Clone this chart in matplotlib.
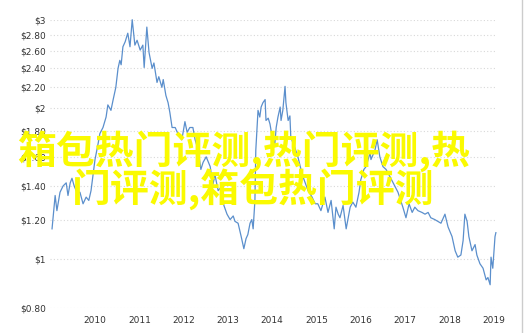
import matplotlib
matplotlib.use("Agg")
import matplotlib.pyplot as plt
from matplotlib.ticker import FixedLocator, NullLocator
from matplotlib.lines import Line2D

years = [2009.03, 2009.10, 2009.14, 2009.21, 2009.28, 2009.35, 2009.39, 2009.44, 2009.48, 2009.53,
         2009.59, 2009.66, 2009.73, 2009.80, 2009.86, 2009.91, 2010.00, 2010.07, 2010.11, 2010.18,
         2010.25, 2010.29, 2010.36, 2010.41, 2010.47, 2010.52, 2010.56, 2010.59, 2010.63, 2010.68,
         2010.74, 2010.79, 2010.84, 2010.90, 2010.95, 2011.02, 2011.08, 2011.11, 2011.17, 2011.22,
         2011.29, 2011.33, 2011.40, 2011.44, 2011.51, 2011.54, 2011.60, 2011.65, 2011.69, 2011.74,
         2011.81, 2011.87, 2011.96, 2012.03, 2012.08, 2012.14, 2012.21, 2012.26, 2012.33, 2012.39,
         2012.44, 2012.51, 2012.60, 2012.66, 2012.71, 2012.78, 2012.84, 2012.91, 2012.98, 2013.05,
         2013.12, 2013.16, 2013.23, 2013.30, 2013.36, 2013.41, 2013.45, 2013.50, 2013.54, 2013.57,
         2013.61, 2013.63, 2013.68, 2013.72, 2013.75, 2013.79, 2013.84, 2013.86, 2013.91, 2013.95,
         2014.00, 2014.06, 2014.09, 2014.13, 2014.18, 2014.20, 2014.24, 2014.29, 2014.31, 2014.36,
         2014.40, 2014.42, 2014.51, 2014.58, 2014.65, 2014.72, 2014.81, 2014.90, 2014.97, 2015.03,
         2015.10, 2015.19, 2015.26, 2015.33, 2015.40, 2015.44, 2015.49, 2015.53, 2015.60, 2015.67,
         2015.76, 2015.82, 2015.89, 2015.96, 2016.00, 2016.07, 2016.12, 2016.21, 2016.23, 2016.32,
         2016.37, 2016.43, 2016.50, 2016.57, 2016.66, 2016.73, 2016.84, 2016.95, 2017.02, 2017.09,
         2017.16, 2017.22, 2017.29, 2017.38, 2017.45, 2017.52, 2017.58, 2017.67, 2017.74, 2017.81,
         2017.90, 2017.97, 2018.06, 2018.13, 2018.19, 2018.26, 2018.31, 2018.35, 2018.40, 2018.44,
         2018.51, 2018.58, 2018.62, 2018.69, 2018.76, 2018.83, 2018.87, 2018.92, 2018.94, 2018.98,
         2019.03, 2019.05]

prices = [1.15, 1.34, 1.25, 1.36, 1.40, 1.42, 1.34, 1.42, 1.45, 1.40,
          1.36, 1.36, 1.29, 1.33, 1.31, 1.37, 1.58, 1.70, 1.78, 1.83,
          1.92, 2.03, 1.98, 2.08, 2.20, 2.40, 2.49, 2.44, 2.65, 2.71,
          2.82, 2.65, 3.00, 2.67, 2.73, 2.61, 2.67, 2.41, 2.90, 2.58,
          2.40, 2.46, 2.25, 2.31, 2.20, 2.28, 2.12, 2.05, 1.96, 1.83,
          1.83, 1.78, 1.73, 1.88, 1.79, 1.83, 1.83, 1.73, 1.65, 1.51,
          1.56, 1.60, 1.53, 1.41, 1.47, 1.37, 1.39, 1.28, 1.23, 1.20,
          1.22, 1.19, 1.18, 1.11, 1.05, 1.10, 1.12, 1.18, 1.20, 1.15,
          1.31, 1.65, 1.98, 1.92, 2.01, 2.05, 2.08, 1.89, 1.91, 1.86,
          1.75, 1.70, 1.83, 1.92, 2.01, 1.89, 1.98, 2.21, 2.05, 1.89,
          1.93, 1.75, 1.67, 1.60, 1.51, 1.44, 1.37, 1.33, 1.29, 1.29,
          1.25, 1.33, 1.24, 1.31, 1.15, 1.27, 1.23, 1.21, 1.28, 1.15,
          1.27, 1.30, 1.27, 1.36, 1.44, 1.51, 1.53, 1.63, 1.58, 1.65,
          1.73, 1.60, 1.53, 1.51, 1.46, 1.42, 1.36, 1.27, 1.21, 1.29,
          1.24, 1.27, 1.25, 1.24, 1.23, 1.24, 1.21, 1.20, 1.19, 1.18,
          1.23, 1.16, 1.11, 1.04, 1.01, 1.02, 1.09, 1.23, 1.19, 1.11,
          1.04, 1.07, 1.02, 0.98, 0.96, 0.91, 0.92, 0.89, 1.01, 0.96,
          1.11, 1.13]

y_ticks = [0.8, 1.0, 1.2, 1.4, 1.6, 1.8, 2.0, 2.2, 2.4, 2.6, 2.8, 3.0]
y_labels = ["$0.80", "$1", "$1.20", "$1.40", "$1.60", "$1.80", "$2",
            "$2.20", "$2.40", "$2.60", "$2.80", "$3"]
x_ticks = list(range(2010, 2020))
x_labels = [str(y) for y in x_ticks]

overlay_line1 = "箱包热门评测,热门评测,热"
overlay_line2 = "门评测,箱包热门评测"

W, H = 524, 333
fig = plt.figure(figsize=(W / 100, H / 100), dpi=100)
fig.patch.set_facecolor("white")

ax = fig.add_axes([50 / W, 1 - 308 / H, (497 - 50) / W, (308 - 19.7) / H])
ax.set_facecolor("white")
ax.set_yscale("log")
ax.set_ylim(0.8, 3.0)
ax.set_xlim(2008.984, 2019.075)

ax.yaxis.set_major_locator(FixedLocator(y_ticks))
ax.yaxis.set_minor_locator(NullLocator())
ax.set_yticklabels(y_labels)
ax.set_xticks(x_ticks)
ax.set_xticklabels(x_labels)

for s in ax.spines.values():
    s.set_visible(False)
ax.tick_params(axis="both", length=0, labelsize=6.5, colors="#333333")
ax.tick_params(axis="y", pad=3)
ax.tick_params(axis="x", pad=6)

ax.grid(axis="y", color="#d8d8d8", linewidth=0.8, linestyle=(0, (1, 2)))
ax.set_axisbelow(True)

ax.plot(years, prices, color="#5b8fcc", linewidth=0.9, clip_on=False)

fig.text(17 / W, 1 - 151 / H, overlay_line1, color="#fafa00", fontsize=28,
         fontweight="bold", family=["Noto Sans CJK SC", "DejaVu Sans"],
         ha="left", va="center")
fig.text(72 / W, 1 - 189 / H, overlay_line2, color="#fafa00", fontsize=28,
         fontweight="bold", family=["Noto Sans CJK SC", "DejaVu Sans"],
         ha="left", va="center")

fig.add_artist(Line2D([521.5 / W, 521.5 / W], [0, 1], color="#cccccc",
                      linewidth=1, transform=fig.transFigure))

fig.savefig("out.png", dpi=100, facecolor="white")
